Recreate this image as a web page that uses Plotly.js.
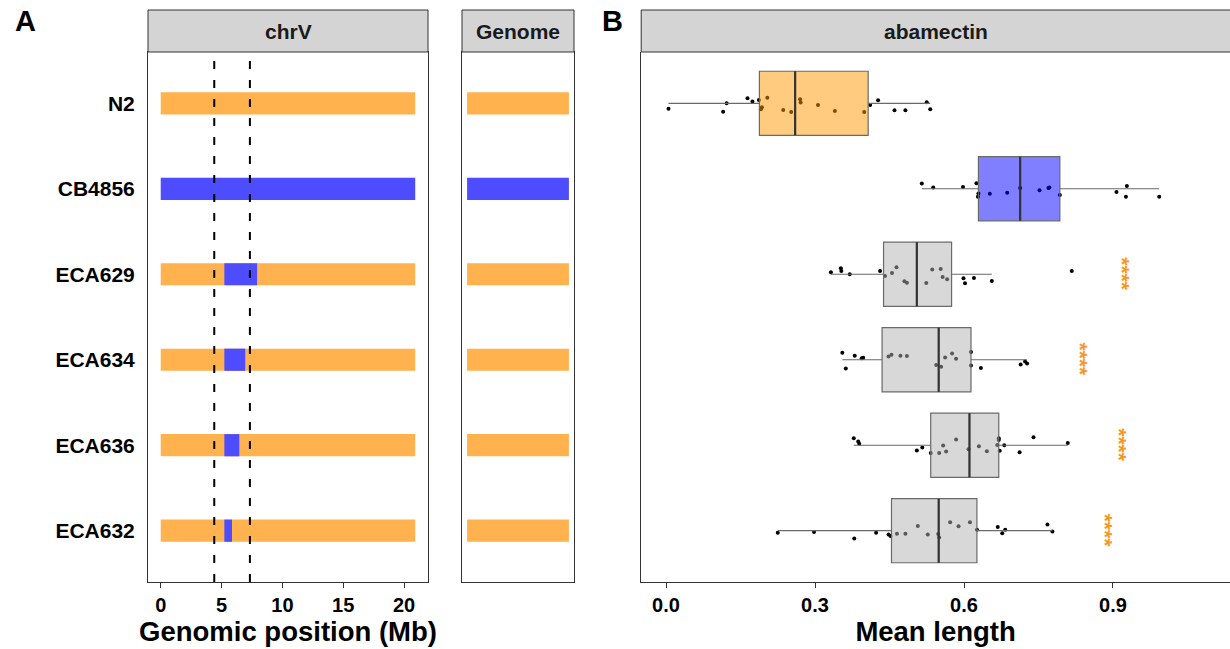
<!DOCTYPE html>
<html><head><meta charset="utf-8">
<script src="https://cdn.plot.ly/plotly-3.0.1.min.js"></script>
<style>html,body{margin:0;padding:0;background:#fff}#chart{width:1230px;height:649px}</style>
</head><body><div id="chart"></div>
<script>
// ---------------- DATA ----------------
const strains = ['N2', 'CB4856', 'ECA629', 'ECA634', 'ECA636', 'ECA632'];
const backgroundGenotype = ['N2', 'CB4856', 'N2', 'N2', 'N2', 'N2'];
const chrVLength = 20.92;                 // Mb
const introStart = [null, null, 5.23, 5.23, 5.23, 5.23];
const introEnd   = [null, null, 7.92, 6.95, 6.46, 5.86];
const qtlBounds = [4.4, 7.33];            // dashed lines, Mb
const chrTicks = [0, 5, 10, 15, 20];
const lengthTicks = [0, 0.3, 0.6, 0.9];
const lengthTickText = ['0.0', '0.3', '0.6', '0.9'];

// mean length per replicate and vertical jitter of each dot
const valN2 = [0.005,0.115,0.122,0.164,0.174,0.187,0.193,0.191,0.204,0.236,0.252,0.270,0.271,0.306,0.340,0.399,0.411,0.427,0.460,0.482,0.525,0.532];
const jitN2 = [0.063,0.098,0,-0.059,-0.020,-0.039,0.047,0.070,-0.066,0.078,0.101,-0.047,-0.008,0.020,0.090,0.101,0.020,-0.035,0.082,0.082,-0.012,0.070];
const valCB = [0.515,0.538,0.598,0.625,0.629,0.628,0.652,0.687,0.713,0.752,0.770,0.772,0.793,0.907,0.926,0.928,0.993];
const jitCB = [-0.062,-0.016,-0.020,-0.066,0.055,0.094,0.059,0.047,-0.008,0.016,-0.008,-0.016,0.074,0.039,0.094,-0.031,0.094];
const val629 = [0.332,0.352,0.353,0.370,0.431,0.441,0.455,0.464,0.480,0.485,0.524,0.536,0.553,0.557,0.566,0.599,0.602,0.620,0.656,0.817];
const jit629 = [-0.023,-0.070,-0.039,0,-0.039,0.020,-0.016,-0.082,0.082,0.098,0.101,-0.055,-0.062,0.031,0.059,0.047,0.105,0.043,0.078,-0.039];
const val634 = [0.355,0.362,0.380,0.394,0.397,0.448,0.454,0.472,0.485,0.544,0.554,0.562,0.576,0.584,0.614,0.614,0.634,0.714,0.723,0.727];
const jit634 = [-0.082,0.101,-0.047,-0.016,-0.023,-0.039,-0.059,-0.047,-0.043,0.062,0.082,-0.027,-0.074,-0.012,-0.090,0.066,0.098,0.055,0.020,0.043];
const val636 = [0.378,0.387,0.389,0.505,0.516,0.533,0.550,0.558,0.564,0.584,0.609,0.630,0.646,0.670,0.670,0.667,0.672,0.681,0.712,0.740,0.809];
const jit636 = [-0.082,-0.043,-0.016,0.062,0.027,0.090,0.090,0.004,0.074,-0.066,0.047,0.012,0.070,-0.082,-0.062,-0.004,0.066,0,0.082,-0.094,-0.027];
const val632 = [0.225,0.298,0.379,0.423,0.448,0.452,0.465,0.482,0.507,0.527,0.548,0.550,0.572,0.589,0.612,0.626,0.668,0.677,0.683,0.768,0.778];
const jit632 = [0.023,0.016,0.090,0.023,0.043,0.062,0.035,0.035,-0.055,0.043,0.039,0.078,-0.098,-0.051,-0.098,-0.012,-0.043,0.031,-0.012,-0.074,0.008];

// box summaries
const q1         = [0.188, 0.629, 0.438, 0.435, 0.533, 0.454];
const median     = [0.260, 0.713, 0.505, 0.549, 0.611, 0.549];
const q3         = [0.407, 0.793, 0.575, 0.614, 0.670, 0.626];
const lowerfence = [0.005, 0.515, 0.332, 0.355, 0.378, 0.225];
const upperfence = [0.532, 0.993, 0.656, 0.727, 0.809, 0.778];

// significance labels
const sigLabel = ['', '', '****', '****', '****', '****'];
const sigX     = [null, null, 0.920, 0.834, 0.914, 0.884];

// ---------------- STYLE ----------------
const W = 1230, H = 649;
const fx = p => p / W;
const fy = p => 1 - p / H;
const FONT = '"Liberation Sans", Arial, sans-serif';
const bold = (size, color) => ({family: FONT, size: size, color: color || '#000', weight: 'bold'});
const genoColor = {N2: '#FFB24D', CB4856: '#4D4DFF'};
const boxFill = {N2: 'rgba(255,153,0,0.5)', CB4856: 'rgba(0,0,255,0.5)', NIL: 'rgba(178,178,178,0.5)'};
const rowPos = strains.map((s, i) => i + 1);
const yRange = [6.6, 0.4];
const values = [valN2, valCB, val629, val634, val636, val632];
const jitters = [jitN2, jitCB, jit629, jit634, jit636, jit632];

const domA = [fx(148), fx(428)];
const domG = [fx(462), fx(574)];
const domB = [fx(641.2), 1];
const domY = [fy(582), fy(52)];
const xRangeB = [-0.05, 1.1356];

const traces = [];
// Panel A: chrV background
traces.push({
  type: 'bar', orientation: 'h', xaxis: 'x', yaxis: 'y',
  y: rowPos, base: rowPos.map(() => 0), x: rowPos.map(() => chrVLength),
  width: 0.26, marker: {color: backgroundGenotype.map(g => genoColor[g]), line: {width: 0}},
  hoverinfo: 'skip', showlegend: false
});
// Panel A: introgressions
const introIdx = strains.map((s, i) => i).filter(i => introStart[i] !== null);
traces.push({
  type: 'bar', orientation: 'h', xaxis: 'x', yaxis: 'y',
  y: introIdx.map(i => rowPos[i]), base: introIdx.map(i => introStart[i]),
  x: introIdx.map(i => introEnd[i] - introStart[i]),
  width: 0.26, marker: {color: genoColor.CB4856, line: {width: 0}},
  hoverinfo: 'skip', showlegend: false
});
// Panel A: genome
traces.push({
  type: 'bar', orientation: 'h', xaxis: 'x2', yaxis: 'y2',
  y: rowPos, base: rowPos.map(() => 0), x: rowPos.map(() => 1),
  width: 0.26, marker: {color: backgroundGenotype.map(g => genoColor[g]), line: {width: 0}},
  hoverinfo: 'skip', showlegend: false
});
// Panel B: points (base subplot, beneath boxes)
strains.forEach((s, i) => {
  traces.push({
    type: 'scatter', mode: 'markers', xaxis: 'x3', yaxis: 'y3',
    x: values[i], y: values[i].map((v, k) => rowPos[i] + jitters[i][k]),
    marker: {color: '#000', size: 4}, hoverinfo: 'skip', showlegend: false
  });
});
// Panel B: boxes (overlay subplot, above points)
strains.forEach((s, i) => {
  const key = i < 2 ? s : 'NIL';
  traces.push({
    type: 'box', orientation: 'h', xaxis: 'x4', yaxis: 'y4',
    y: [rowPos[i]], q1: [q1[i]], median: [median[i]], q3: [q3[i]],
    lowerfence: [lowerfence[i]], upperfence: [upperfence[i]],
    width: 0.75, whiskerwidth: 0, boxpoints: false,
    fillcolor: boxFill[key], line: {color: '#6a6a6a', width: 1.2},
    hoverinfo: 'skip', showlegend: false
  });
});
// thick median segments
const medX = [], medY = [];
strains.forEach((s, i) => {
  medX.push(median[i], median[i], null);
  medY.push(rowPos[i] - 0.375, rowPos[i] + 0.375, null);
});
traces.push({
  type: 'scatter', mode: 'lines', xaxis: 'x4', yaxis: 'y4',
  x: medX, y: medY, line: {color: '#333', width: 2.2}, hoverinfo: 'skip', showlegend: false
});

// ---------------- LAYOUT ----------------
const lineCol = '#333';
const shapes = [];
const annotations = [];
function strip(dom, label) {
  shapes.push({type: 'rect', xref: 'paper', yref: 'paper', x0: dom[0], x1: dom[1],
    y0: fy(52), y1: fy(10), fillcolor: '#D4D4D4', line: {color: lineCol, width: 1}, layer: 'above'});
  annotations.push({xref: 'paper', yref: 'paper', x: (dom[0] + Math.min(dom[1], 1)) / 2, y: fy(31),
    text: label, showarrow: false, font: bold(21, '#1a1a1a'), xanchor: 'center', yanchor: 'middle'});
}
strip(domA, 'chrV');
strip(domG, 'Genome');
strip([domB[0], 1.01], 'abamectin');
annotations[annotations.length - 1].x = (domB[0] + 1) / 2;

qtlBounds.forEach(q => {
  shapes.push({type: 'line', xref: 'x', yref: 'y domain', x0: q, x1: q, y0: 0, y1: 1,
    line: {color: '#000', width: 2, dash: '8px,11px'}, layer: 'above'});
});

strains.forEach((s, i) => {
  if (sigX[i] !== null) {
    annotations.push({xref: 'x3', yref: 'y3', x: sigX[i], y: rowPos[i], text: sigLabel[i],
      showarrow: false, textangle: 90, font: {family: FONT, size: 21, color: '#F8961E', weight: 'bold'},
      xanchor: 'center', yanchor: 'middle'});
  }
});
annotations.push({xref: 'paper', yref: 'paper', x: fx(25), y: fy(21), text: 'A', showarrow: false,
  font: bold(29), xanchor: 'center', yanchor: 'middle'});
annotations.push({xref: 'paper', yref: 'paper', x: fx(612), y: fy(21), text: 'B', showarrow: false,
  font: bold(29), xanchor: 'center', yanchor: 'middle'});

const baseAxis = {showgrid: false, zeroline: false, linecolor: lineCol, linewidth: 1, showline: true};

const layout = {
  width: W, height: H, margin: {l: 0, r: 0, t: 0, b: 0},
  paper_bgcolor: '#fff', plot_bgcolor: 'rgba(0,0,0,0)',
  barmode: 'overlay', boxmode: 'overlay', showlegend: false,
  font: {family: FONT, color: '#000'},
  xaxis: Object.assign({}, baseAxis, {
    domain: domA, anchor: 'y', range: [-1.046, 21.97], mirror: true,
    tickmode: 'array', tickvals: chrTicks, ticktext: chrTicks.map(String),
    ticks: 'outside', ticklen: 5, tickwidth: 1, tickcolor: lineCol, tickfont: bold(20),
    title: {text: 'Genomic position (Mb)', font: bold(27.5), standoff: 5}
  }),
  yaxis: Object.assign({}, baseAxis, {
    domain: domY, anchor: 'x', range: yRange, mirror: true,
    tickmode: 'array', tickvals: rowPos, ticktext: strains,
    ticks: 'outside', ticklen: 8, tickcolor: 'rgba(0,0,0,0)', tickfont: bold(21)
  }),
  xaxis2: Object.assign({}, baseAxis, {
    domain: domG, anchor: 'y2', range: [-0.05, 1.05], mirror: true,
    showticklabels: false, ticks: ''
  }),
  yaxis2: Object.assign({}, baseAxis, {
    domain: domY, anchor: 'x2', range: yRange, mirror: true,
    showticklabels: false, ticks: ''
  }),
  xaxis3: Object.assign({}, baseAxis, {
    domain: domB, anchor: 'y3', range: xRangeB,
    tickmode: 'array', tickvals: lengthTicks, ticktext: lengthTickText,
    ticks: 'outside', ticklen: 5, tickwidth: 1, tickcolor: lineCol, tickfont: bold(20),
    title: {text: 'Mean length', font: bold(27.5), standoff: 5}
  }),
  yaxis3: Object.assign({}, baseAxis, {
    domain: domY, anchor: 'x3', range: yRange, showticklabels: false, ticks: ''
  }),
  xaxis4: {overlaying: 'x3', anchor: 'y4', range: xRangeB, visible: false},
  yaxis4: {overlaying: 'y3', anchor: 'x4', range: yRange, visible: false},
  shapes: shapes,
  annotations: annotations
};

Plotly.newPlot('chart', traces, layout, {staticPlot: true, displayModeBar: false});
</script>
</body></html>
